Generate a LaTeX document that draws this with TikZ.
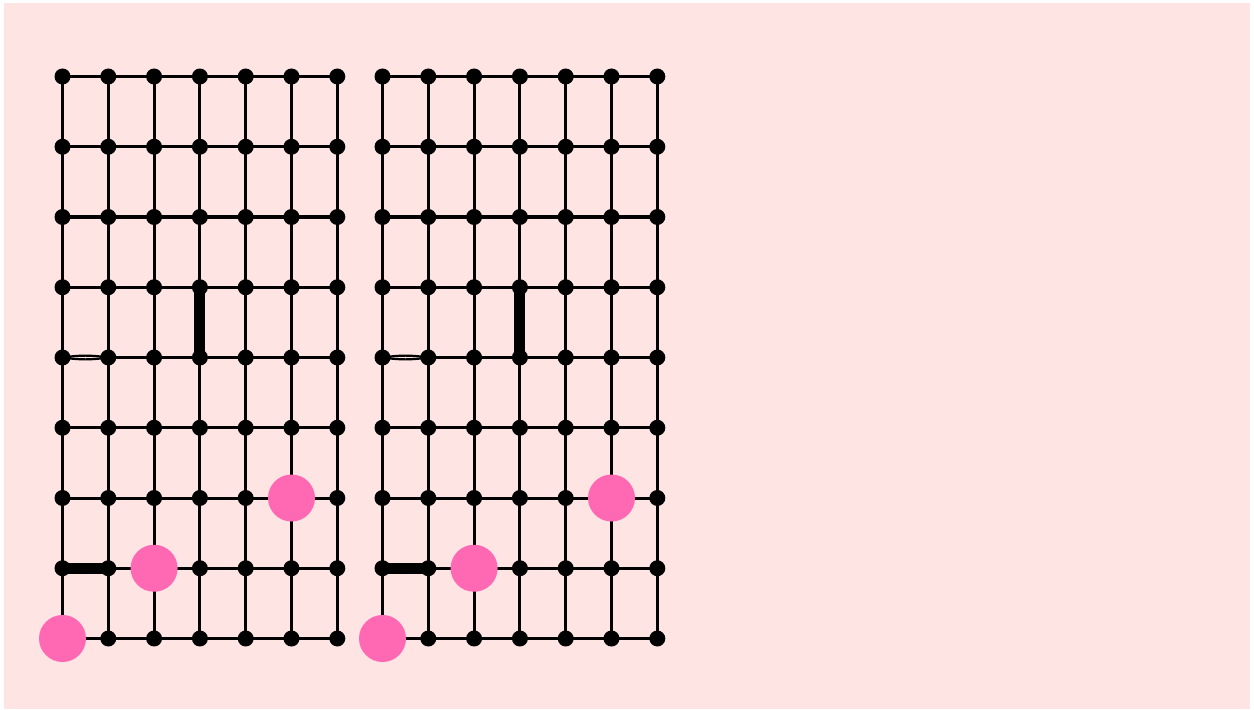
\documentclass[tikz,border=0pt]{standalone}
\definecolor{bgpink}{HTML}{FFE4E4}
\definecolor{hot}{HTML}{FF69B4}
\tikzset{
  dot/.style={circle,fill=black,inner sep=0pt,minimum size=16bp},
  edge/.style={line width=3bp,black},
  thickedge/.style={line width=11bp,black},
  twin/.style={line width=2.2bp,black},
  hotdot/.style={circle,fill=hot,inner sep=0pt,minimum size=47bp}
}
\begin{document}
\begin{tikzpicture}[x=1bp,y=-1bp]
\useasboundingbox (0,0) rectangle (1254,710);
\fill[bgpink] (4,3) rectangle (1250,709);
\foreach \g/\ox in {a/62.5,b/382.5}{
  \foreach \c in {0,...,6}{
    \foreach \r in {0,...,8}{
      \pgfmathsetmacro{\px}{\ox+\c*45.8}
      \pgfmathsetmacro{\py}{76.5+\r*70.25}
      \coordinate (\g-\c-\r) at (\px,\py);
    }
  }
  \foreach \r in {0,...,8}{
    \foreach \c [evaluate=\c as \n using int(\c+1)] in {0,...,5}{
      \draw[edge] (\g-\c-\r) -- (\g-\n-\r);
    }
  }
  \foreach \c in {0,...,6}{
    \foreach \r [evaluate=\r as \n using int(\r+1)] in {0,...,7}{
      \draw[edge] (\g-\c-\r) -- (\g-\c-\n);
    }
  }
  \draw[thickedge] (\g-3-3) -- (\g-3-4);
  \draw[thickedge] (\g-0-7) -- (\g-1-7);
  \fill[bgpink] ([xshift=8bp,yshift=-2bp]\g-0-4) rectangle ([xshift=-8bp,yshift=2bp]\g-1-4);
  \draw[twin] (\g-0-4) to[bend left=8] (\g-1-4);
  \draw[twin] (\g-0-4) to[bend right=8] (\g-1-4);
  \foreach \c in {0,...,6}{
    \foreach \r in {0,...,8}{
      \node[dot] (\g-n-\c-\r) at (\g-\c-\r) {};
    }
  }
  \node[hotdot] (\g-p1) at (\g-0-8) {};
  \node[hotdot] (\g-p2) at (\g-2-7) {};
  \node[hotdot] (\g-p3) at (\g-5-6) {};
}
\end{tikzpicture}
\end{document}
